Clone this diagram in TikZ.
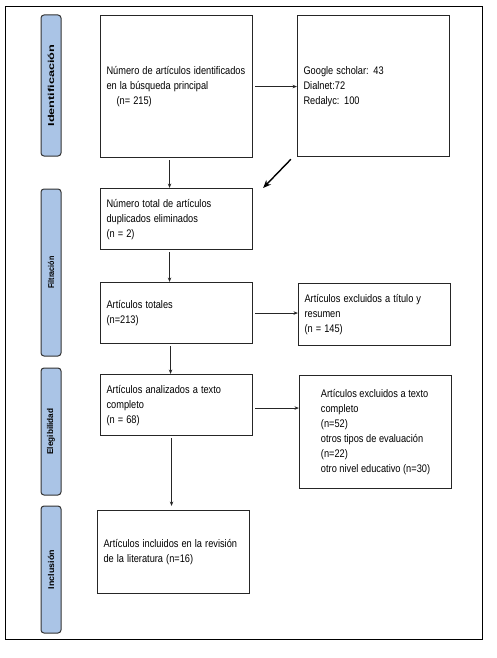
\documentclass[tikz,border=0pt]{standalone}
\usepackage{fontspec}
\setmainfont{Liberation Sans}
\usetikzlibrary{arrows.meta}
\definecolor{barblue}{RGB}{170,196,230}
\newcommand{\btext}[1]{\scalebox{0.84}[1]{\begin{tabular}{@{}l@{}}#1\end{tabular}}}
\begin{document}
\begin{tikzpicture}[x=1pt,y=-1pt,
  box/.style={draw=black!85, line width=1.1pt, rectangle, anchor=north west, minimum width=152pt,
    text width=140pt, inner xsep=6pt, align=left, font=\fontsize{11}{15}\selectfont},
  phase/.style={draw=black!80, line width=1pt, fill=barblue, rounded corners=3pt, rotate=90,
    minimum height=20pt, inner sep=0pt},
  arr/.style={draw=black!85, line width=0.8pt, -{Stealth[length=4.5pt,width=3.5pt]}},
  bigarr/.style={draw=black, line width=1.4pt, -{Stealth[length=8pt,width=6.5pt]}}]
\useasboundingbox (0,0) rectangle (497,658);
\draw[line width=1pt] (5,7) rectangle (482,639);
% phase bars
\node[phase, minimum width=141pt] (p1) at (51,85.5)
  {\resizebox{82pt}{\height}{\fontsize{8.6}{10}\selectfont\bfseries Identificación}};
\node[phase, minimum width=167pt] (p2) at (51,272.5)
  {\resizebox{32pt}{\height}{\fontsize{8.4}{10}\selectfont\bfseries Filtración}};
\node[phase, minimum width=127pt] (p3) at (51,431.5)
  {\resizebox{46pt}{\height}{\fontsize{8.4}{10}\selectfont\bfseries Elegibilidad}};
\node[phase, minimum width=127pt] (p4) at (51,569.5)
  {\resizebox{39pt}{\height}{\fontsize{8.4}{10}\selectfont\bfseries Inclusión}};
% boxes
\node[box, minimum height=142pt] (b1) at (100,15)
  {\btext{Número de artículos identificados\\en la búsqueda principal\\\hspace*{12pt}(n= 215)}};
\node[box, minimum height=141pt, minimum width=151pt] (b2) at (297,15)
  {\btext{Google scholar: 43\\Dialnet:72\\Redalyc: 100}};
\node[box, minimum height=61pt] (b3) at (100,188)
  {\btext{Número total de artículos\\duplicados eliminados\\(n = 2)}};
\node[box, minimum height=61pt] (b4) at (100,282)
  {\btext{Artículos totales\\(n=213)}};
\node[box, minimum height=62pt] (b5) at (298,283)
  {\btext{Artículos excluidos a título y\\resumen\\(n = 145)}\\[-4pt]};
\node[box, minimum height=61pt] (b6) at (100,374)
  {\btext{Artículos analizados a texto\\completo\\(n = 68)}};
\node[box, minimum height=113pt, text width=, inner xsep=6pt] (b7) at (299,375)
  {\btext{Artículos excluidos a texto\\completo\\(n=52)\\otros tipos de evaluación\\(n=22)\\otro nivel educativo (n=30)}};
\node[box, minimum height=83pt] (b8) at (97,510)
  {\btext{Artículos incluidos en la revisión\\de la literatura (n=16)}};
% connectors
\draw[arr, shorten <=2pt] (b1.east) -- (b2.west |- b1.east);
\draw[arr, shorten <=2pt] ([xshift=-7pt]b1.south) -- ([xshift=-7pt]b1.south |- b3.north);
\draw[arr, shorten <=2pt] ([xshift=-7pt]b3.south) -- ([xshift=-7pt]b3.south |- b4.north);
\draw[arr, shorten <=2pt] (b4.east) -- (b5.west |- b4.east);
\draw[arr, shorten <=2pt] ([xshift=-6pt]b4.south) -- ([xshift=-6pt]b4.south |- b6.north);
\draw[arr, shorten <=2pt] ([yshift=-3pt]b6.east) -- ([yshift=-3pt]b7.west |- b6.east);
\draw[arr, shorten <=2pt, shorten >=4pt] ([xshift=-5pt]b6.south) -- ([xshift=-5pt]b6.south |- b8.north);
\draw[bigarr, shorten <=3pt, shorten >=0pt] ([xshift=-4pt]b2.south west) -- ([xshift=10pt]b3.north east);
\end{tikzpicture}
\end{document}
